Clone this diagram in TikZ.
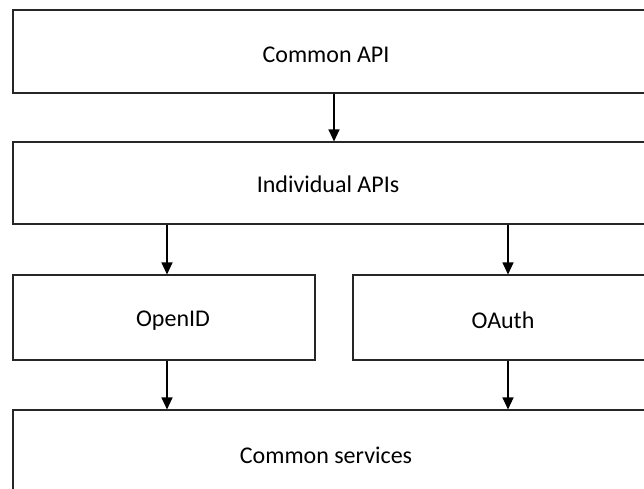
\documentclass[tikz,border=0pt]{standalone}
\usepackage{fontspec}
\setmainfont{Carlito}
\usetikzlibrary{arrows.meta}
\begin{document}
\begin{tikzpicture}[x=1pt,y=-1pt,
  box/.style={draw=black!85,line width=1.1pt,inner sep=0pt,minimum width=#1},
  lbl/.style={font=\fontsize{24}{28}\selectfont},
  arr/.style={draw=black,line width=1.1pt,-{Triangle[width=11pt,length=12pt]}}]
\useasboundingbox (0,0) rectangle (644,488);
\clip (0,0) rectangle (644,488);
\node[box=647pt,minimum height=83pt] (api) at (336.5,51.5) {};
\node[lbl] (apit) at (326,55) {Common API};
\node[box=647pt,minimum height=82pt] (ind) at (336.5,183) {};
\node[lbl] (indt) at (328,184) {Individual APIs};
\node[box=302pt,minimum height=85pt] (oid) at (164,317.5) {};
\node[lbl] (oidt) at (173,321) {OpenID};
\node[box=307pt,minimum height=85pt] (oau) at (506.5,317.5) {};
\node[lbl] (oaut) at (503,320) {OAuth};
\node[box=647pt,minimum height=90pt] (svc) at (336.5,455) {};
\node[lbl] (svct) at (326,455) {Common services};
\draw[arr] ([xshift=-2.5pt]api.south) -- ([xshift=-2.5pt]api.south |- ind.north);
\draw[arr] ([xshift=3pt]oid.north |- ind.south) -- ([xshift=3pt]oid.north);
\draw[arr] ([xshift=1.5pt]oau.north |- ind.south) -- ([xshift=1.5pt]oau.north);
\draw[arr] ([xshift=3pt]oid.south) -- ([xshift=3pt]oid.south |- svc.north);
\draw[arr] ([xshift=1.5pt]oau.south) -- ([xshift=1.5pt]oau.south |- svc.north);
\end{tikzpicture}
\end{document}
